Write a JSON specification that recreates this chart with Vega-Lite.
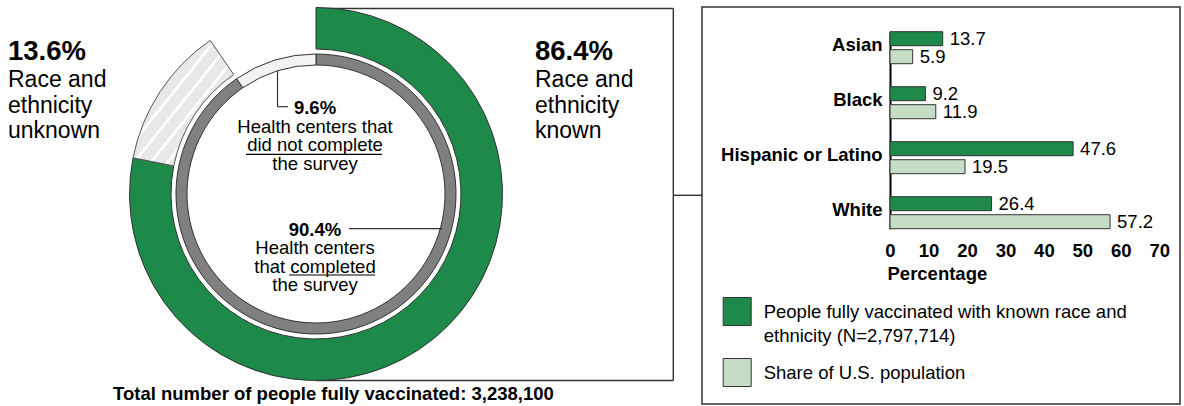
{
  "$schema": "https://vega.github.io/schema/vega-lite/v6.json",
  "padding": {"left": 0, "top": 5, "right": 0, "bottom": 0},
  "autosize": {"type": "pad"},
  "background": "white",
  "config": {
    "view": {"stroke": null},
    "font": "Liberation Sans",
    "text": {"font": "Liberation Sans", "color": "#000"}
  },
  "datasets": {
    "outer": [
      {"race": "Race and ethnicity known", "pct": 86.4, "order": 1},
      {"race": "Race and ethnicity unknown", "pct": 13.6, "order": 2}
    ],
    "inner": [
      {"survey": "Health centers that completed the survey", "pct": 90.4, "order": 1},
      {"survey": "Health centers that did not complete the survey", "pct": 9.6, "order": 2}
    ],
    "bars": [
      {"race": "Asian", "series": "People fully vaccinated with known race and ethnicity (N=2,797,714)", "pct": 13.7},
      {"race": "Asian", "series": "Share of U.S. population", "pct": 5.9},
      {"race": "Black", "series": "People fully vaccinated with known race and ethnicity (N=2,797,714)", "pct": 9.2},
      {"race": "Black", "series": "Share of U.S. population", "pct": 11.9},
      {"race": "Hispanic or Latino", "series": "People fully vaccinated with known race and ethnicity (N=2,797,714)", "pct": 47.6},
      {"race": "Hispanic or Latino", "series": "Share of U.S. population", "pct": 19.5},
      {"race": "White", "series": "People fully vaccinated with known race and ethnicity (N=2,797,714)", "pct": 26.4},
      {"race": "White", "series": "Share of U.S. population", "pct": 57.2}
    ]
  },
  "spacing": 70,
  "bounds": "flush",
  "resolve": {"scale": {"color": "independent"}, "legend": {"color": "independent"}},
  "hconcat": [
    {
      "width": 632,
      "height": 374,
      "resolve": {"scale": {"theta": "independent"}},
      "layer": [
        {"data": {"values": [{}]}, "mark": {"type": "rule", "stroke": "#333", "strokeWidth": 1.4},
          "encoding": {"x": {"value": 316}, "x2": {"value": 673.3}, "y": {"value": 1.5}, "y2": {"value": 1.5}}},
        {"data": {"values": [{}]}, "mark": {"type": "rule", "stroke": "#333", "strokeWidth": 1.4},
          "encoding": {"x": {"value": 673.3}, "x2": {"value": 673.3}, "y": {"value": 1.5}, "y2": {"value": 373.5}}},
        {"data": {"values": [{}]}, "mark": {"type": "rule", "stroke": "#333", "strokeWidth": 1.4},
          "encoding": {"x": {"value": 316}, "x2": {"value": 673.3}, "y": {"value": 373.5}, "y2": {"value": 373.5}}},
        {"data": {"values": [{}]}, "mark": {"type": "rule", "stroke": "#333", "strokeWidth": 1.4},
          "encoding": {"x": {"value": 673.3}, "x2": {"value": 702}, "y": {"value": 188.3}, "y2": {"value": 188.3}}},
        {
          "data": {"name": "outer"},
          "transform": [
            {"stack": "pct", "groupby": [], "sort": [{"field": "order"}], "as": ["t0", "t1"]},
            {"filter": "datum.order == 1"}
          ],
          "mark": {"type": "arc", "radius": 186.5, "radius2": 145, "fill": "#1d8a4a", "stroke": "#333", "strokeWidth": 1},
          "encoding": {
            "theta": {"field": "t0", "type": "quantitative", "scale": {"domain": [0, 100], "range": [0, 5.68]}},
            "theta2": {"field": "t1"}
          }
        },
        {
          "data": {"name": "outer"},
          "transform": [
            {"stack": "pct", "groupby": [], "sort": [{"field": "order"}], "as": ["t0", "t1"]},
            {"filter": "datum.order == 2"}
          ],
          "mark": {
            "type": "arc", "radius": 186.5, "radius2": 145, "stroke": "#555", "strokeWidth": 1,
            "fill": {
              "gradient": "linear", "x1": 0, "y1": 0, "x2": 1, "y2": 1,
              "stops": [
                {"offset": 0, "color": "#e8e8e8"},
                {"offset": 0.0653, "color": "#e8e8e8"},
                {"offset": 0.0653, "color": "#ffffff"},
                {"offset": 0.0833, "color": "#ffffff"},
                {"offset": 0.0833, "color": "#e8e8e8"},
                {"offset": 0.1487, "color": "#e8e8e8"},
                {"offset": 0.1487, "color": "#ffffff"},
                {"offset": 0.1667, "color": "#ffffff"},
                {"offset": 0.1667, "color": "#e8e8e8"},
                {"offset": 0.232, "color": "#e8e8e8"},
                {"offset": 0.232, "color": "#ffffff"},
                {"offset": 0.25, "color": "#ffffff"},
                {"offset": 0.25, "color": "#e8e8e8"},
                {"offset": 0.3153, "color": "#e8e8e8"},
                {"offset": 0.3153, "color": "#ffffff"},
                {"offset": 0.3333, "color": "#ffffff"},
                {"offset": 0.3333, "color": "#e8e8e8"},
                {"offset": 0.3987, "color": "#e8e8e8"},
                {"offset": 0.3987, "color": "#ffffff"},
                {"offset": 0.4167, "color": "#ffffff"},
                {"offset": 0.4167, "color": "#e8e8e8"},
                {"offset": 0.482, "color": "#e8e8e8"},
                {"offset": 0.482, "color": "#ffffff"},
                {"offset": 0.5, "color": "#ffffff"},
                {"offset": 0.5, "color": "#e8e8e8"},
                {"offset": 0.5653, "color": "#e8e8e8"},
                {"offset": 0.5653, "color": "#ffffff"},
                {"offset": 0.5833, "color": "#ffffff"},
                {"offset": 0.5833, "color": "#e8e8e8"},
                {"offset": 0.6487, "color": "#e8e8e8"},
                {"offset": 0.6487, "color": "#ffffff"},
                {"offset": 0.6667, "color": "#ffffff"},
                {"offset": 0.6667, "color": "#e8e8e8"},
                {"offset": 0.732, "color": "#e8e8e8"},
                {"offset": 0.732, "color": "#ffffff"},
                {"offset": 0.75, "color": "#ffffff"},
                {"offset": 0.75, "color": "#e8e8e8"},
                {"offset": 0.8153, "color": "#e8e8e8"},
                {"offset": 0.8153, "color": "#ffffff"},
                {"offset": 0.8333, "color": "#ffffff"},
                {"offset": 0.8333, "color": "#e8e8e8"},
                {"offset": 0.8987, "color": "#e8e8e8"},
                {"offset": 0.8987, "color": "#ffffff"},
                {"offset": 0.9167, "color": "#ffffff"},
                {"offset": 0.9167, "color": "#e8e8e8"},
                {"offset": 1, "color": "#e8e8e8"}
              ]
            }
          },
          "encoding": {
            "theta": {"field": "t0", "type": "quantitative", "scale": {"domain": [0, 100], "range": [0, 5.68]}},
            "theta2": {"field": "t1"}
          }
        },
        {
          "data": {"name": "inner"},
          "transform": [
            {"stack": "pct", "groupby": [], "sort": [{"field": "order"}], "as": ["t0", "t1"]}
          ],
          "mark": {"type": "arc", "radius": 140, "radius2": 129, "stroke": "#333", "strokeWidth": 1},
          "encoding": {
            "theta": {"field": "t0", "type": "quantitative", "scale": {"domain": [0, 100], "range": [0, 6.2832]}},
            "theta2": {"field": "t1"},
            "fill": {"field": "survey", "type": "nominal", "legend": null,
              "scale": {"domain": ["Health centers that completed the survey", "Health centers that did not complete the survey"], "range": ["#808080", "#f2f2f2"]}}
          }
        },
        {"data": {"values": [{}]}, "mark": {"type": "rule", "stroke": "#333", "strokeWidth": 1.2},
          "encoding": {"x": {"value": 277.5}, "x2": {"value": 277.5}, "y": {"value": 64}, "y2": {"value": 99.7}}},
        {"data": {"values": [{}]}, "mark": {"type": "rule", "stroke": "#333", "strokeWidth": 1.2},
          "encoding": {"x": {"value": 277.5}, "x2": {"value": 288}, "y": {"value": 99.7}, "y2": {"value": 99.7}}},
        {"data": {"values": [{}]}, "mark": {"type": "rule", "stroke": "#333", "strokeWidth": 1.2},
          "encoding": {"x": {"value": 349}, "x2": {"value": 442}, "y": {"value": 221.7}, "y2": {"value": 221.7}}},
        {"data": {"values": [{}]}, "mark": {"type": "rule", "stroke": "#000", "strokeWidth": 1.2},
          "encoding": {"x": {"value": 246}, "x2": {"value": 382}, "y": {"value": 147.3}, "y2": {"value": 147.3}}},
        {"data": {"values": [{}]}, "mark": {"type": "rule", "stroke": "#000", "strokeWidth": 1.2},
          "encoding": {"x": {"value": 289}, "x2": {"value": 375}, "y": {"value": 268}, "y2": {"value": 268}}},
        {
          "data": {"name": "outer"},
          "transform": [{"filter": "datum.order == 2"}, {"calculate": "format(datum.pct, '.1f') + '%'", "as": "label"}],
          "mark": {"type": "text", "x": 8, "y": 53, "align": "left", "baseline": "alphabetic", "fontSize": 27.5, "fontWeight": "bold"},
          "encoding": {"text": {"field": "label"}}
        },
        {
          "data": {"name": "outer"},
          "transform": [{"filter": "datum.order == 2"}],
          "mark": {"type": "text", "x": 8, "y": 80, "align": "left", "baseline": "alphabetic", "fontSize": 23, "lineHeight": 25.5, "text": ["Race and", "ethnicity", "unknown"]},
          "encoding": {}
        },
        {
          "data": {"name": "outer"},
          "transform": [{"filter": "datum.order == 1"}, {"calculate": "format(datum.pct, '.1f') + '%'", "as": "label"}],
          "mark": {"type": "text", "x": 535, "y": 53, "align": "left", "baseline": "alphabetic", "fontSize": 27.5, "fontWeight": "bold"},
          "encoding": {"text": {"field": "label"}}
        },
        {
          "data": {"name": "outer"},
          "transform": [{"filter": "datum.order == 1"}],
          "mark": {"type": "text", "x": 535, "y": 80, "align": "left", "baseline": "alphabetic", "fontSize": 23, "lineHeight": 25.5, "text": ["Race and", "ethnicity", "known"]},
          "encoding": {}
        },
        {
          "data": {"name": "inner"},
          "transform": [{"filter": "datum.order == 2"}, {"calculate": "format(datum.pct, '.1f') + '%'", "as": "label"}],
          "mark": {"type": "text", "x": 315, "y": 107.3, "align": "center", "baseline": "alphabetic", "fontSize": 18.5, "fontWeight": "bold"},
          "encoding": {"text": {"field": "label"}}
        },
        {
          "data": {"name": "inner"},
          "transform": [{"filter": "datum.order == 2"}],
          "mark": {"type": "text", "x": 315, "y": 125.7, "align": "center", "baseline": "alphabetic", "fontSize": 18.5, "lineHeight": 18.8, "text": ["Health centers that", "did not complete", "the survey"]},
          "encoding": {}
        },
        {
          "data": {"name": "inner"},
          "transform": [{"filter": "datum.order == 1"}, {"calculate": "format(datum.pct, '.1f') + '%'", "as": "label"}],
          "mark": {"type": "text", "x": 315, "y": 229, "align": "center", "baseline": "alphabetic", "fontSize": 18.5, "fontWeight": "bold"},
          "encoding": {"text": {"field": "label"}}
        },
        {
          "data": {"name": "inner"},
          "transform": [{"filter": "datum.order == 1"}],
          "mark": {"type": "text", "x": 315, "y": 247.3, "align": "center", "baseline": "alphabetic", "fontSize": 18.5, "lineHeight": 18.5, "text": ["Health centers", "that completed", "the survey"]},
          "encoding": {}
        },
        {
          "data": {"values": [{}]},
          "mark": {"type": "text", "x": 333.4, "y": 392.7, "align": "center", "baseline": "alphabetic", "fontSize": 18.5, "fontWeight": "bold", "text": "Total number of people fully vaccinated: 3,238,100"},
          "encoding": {}
        }
      ]
    },
    {
      "width": 478,
      "height": 397,
      "view": {"stroke": "#333", "strokeWidth": 1.5},
      "data": {"name": "bars"},
      "encoding": {
        "y": {
          "field": "race", "type": "nominal",
          "sort": ["Asian", "Black", "Hispanic or Latino", "White"],
          "scale": {"range": [24.7, 221.7], "paddingInner": 0.418, "paddingOuter": 0},
          "axis": {
            "title": null, "orient": "left", "offset": -188,
            "domain": true, "domainColor": "#000", "domainWidth": 2,
            "ticks": false, "tickSize": 0, "grid": false,
            "labelFont": "Liberation Sans", "labelFontWeight": "bold", "labelFontSize": 18.5,
            "labelColor": "#000", "labelPadding": 8, "labelLimit": 300, "labelOffset": -3
          }
        },
        "yOffset": {
          "field": "series", "type": "nominal",
          "sort": ["People fully vaccinated with known race and ethnicity (N=2,797,714)", "Share of U.S. population"],
          "scale": {"paddingInner": 0.222, "paddingOuter": 0}
        },
        "x": {
          "field": "pct", "type": "quantitative",
          "scale": {"domain": [0, 70], "range": [188, 457.3], "nice": false, "zero": true},
          "axis": {
            "title": "Percentage", "orient": "bottom", "offset": -175.3,
            "domain": false, "ticks": false, "tickSize": 0, "grid": false,
            "values": [0, 10, 20, 30, 40, 50, 60, 70],
            "labelFlush": false, "labelOverlap": false, "labelBound": false,
            "labelFont": "Liberation Sans", "labelFontWeight": "bold", "labelFontSize": 18.5,
            "labelColor": "#000", "labelBaseline": "alphabetic", "labelPadding": 27.3,
            "titleFont": "Liberation Sans", "titleFontSize": 18.5, "titleFontWeight": "bold", "titleColor": "#000",
            "titleAlign": "left", "titleBaseline": "alphabetic", "titleX": 185, "titleY": 50.3
          }
        }
      },
      "layer": [
        {
          "mark": {"type": "bar", "stroke": "#333", "strokeWidth": 1},
          "encoding": {
            "color": {
              "field": "series", "type": "nominal",
              "scale": {
                "domain": ["People fully vaccinated with known race and ethnicity (N=2,797,714)", "Share of U.S. population"],
                "range": ["#1d8a4a", "#c5ddc5"]
              },
              "legend": {
                "title": null, "orient": "none", "legendX": 20.7, "legendY": 290,
                "direction": "vertical", "padding": 0,
                "symbolType": "square", "symbolSize": 784,
                "symbolStrokeColor": "#333", "symbolStrokeWidth": 1, "symbolOpacity": 1,
                "labelFont": "Liberation Sans", "labelFontSize": 18.5, "labelColor": "#000",
                "labelLimit": 0, "labelOffset": 12, "rowPadding": 11,
                "labelExpr": "datum.label == 'Share of U.S. population' ? datum.label : ['People fully vaccinated with known race and', 'ethnicity (N=2,797,714)']",
                "encode": {"labels": {"update": {"lineHeight": {"value": 24}}}}
              }
            }
          }
        },
        {
          "mark": {"type": "text", "align": "left", "baseline": "middle", "dx": 7, "fontSize": 18.5, "font": "Liberation Sans", "color": "#000"},
          "encoding": {"text": {"field": "pct", "type": "quantitative", "format": ".1f"}}
        }
      ]
    }
  ]
}
